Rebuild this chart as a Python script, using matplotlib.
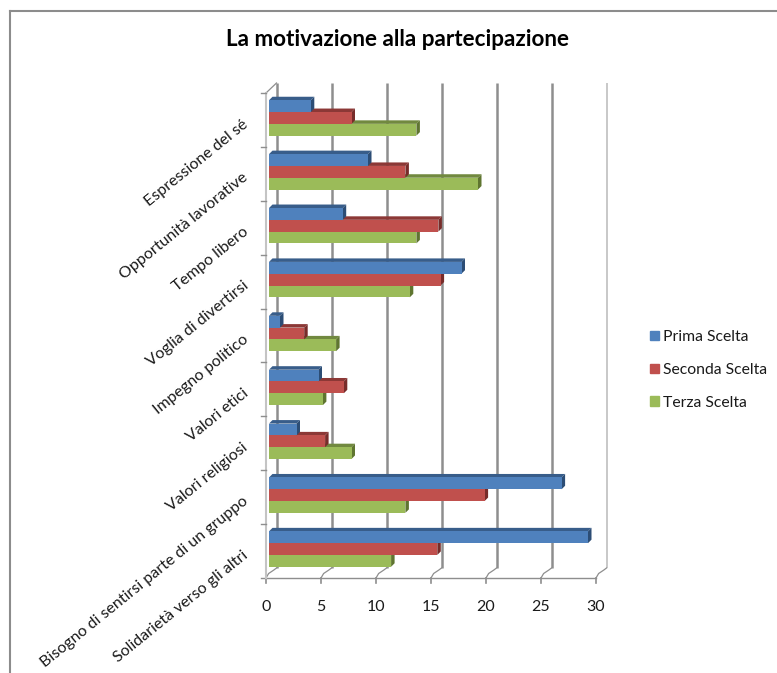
import numpy as np
import matplotlib
matplotlib.use('Agg')
import matplotlib.pyplot as plt
from matplotlib.lines import Line2D
from matplotlib.patches import Polygon, Patch

plt.rcParams['font.family'] = ['Lato', 'DejaVu Sans']

categories = ['Solidarietà verso gli altri', 'Bisogno di sentirsi parte di un gruppo', 'Valori religiosi',
              'Valori etici', 'Impegno politico', 'Voglia di divertirsi', 'Tempo libero',
              'Opportunità lavorative', 'Espressione del sé']
prima = [29.0, 26.6, 2.5, 4.5, 1.0, 17.5, 6.7, 9.0, 3.8]
seconda = [15.3, 19.6, 5.1, 6.8, 3.2, 15.6, 15.4, 12.4, 7.5]
terza = [11.1, 12.4, 7.5, 4.9, 6.1, 12.8, 13.4, 19.0, 13.4]
xticks = [0, 5, 10, 15, 20, 25, 30]

W, H = 777, 673
fig = plt.figure(figsize=(W / 100, H / 100), dpi=100)
# axes: x 0-30 on px 266-596, one band per category on px 578-93
ax = fig.add_axes([266 / W, 1 - 578 / H, 330 / W, 485 / H])
ax.set_xlim(0, 30)
ax.set_ylim(-0.5, 8.5)
ax.axis('off')

px_x = 30 / 330
px_y = 9 / 485
ymin, ymax = -0.5, 8.5
wall_dx, wall_dy = 10.5 * px_x, 10 * px_y
x0 = 3 * px_x          # bars start a bit right of the axis
shift = 2 * px_y       # group centre sits above the band centre
bar_h = 11.8 * px_y
dep_x, dep_y = 3.5 * px_x, 3.5 * px_y

# back wall gridlines and the little bent floor lines
for v in xticks:
    col = '#c4c4c4' if v == 30 else '#8e8e8e'
    lw = 1.3 if v == 30 else 1.8
    ax.plot([v + wall_dx, v + wall_dx], [ymin + wall_dy, ymax + wall_dy], color=col, lw=lw, zorder=1,
            clip_on=False, solid_capstyle='butt')
    ax.plot([v, v + 0.25 * wall_dx, v + 0.75 * wall_dx, v + wall_dx],
            [ymin, ymin + 0.45 * wall_dy, ymin + 0.8 * wall_dy, ymin + wall_dy],
            color='#8e8e8e', lw=0.9, zorder=1, clip_on=False)
    ax.plot([v, v], [ymin, ymin - 5 * px_y], color='#8e8e8e', lw=1.2, clip_on=False)
    ax.text(v, ymin - 29 * px_y, str(v), ha='center', va='center', fontsize=11.5, color='#1a1a1a')

# front floor and left wall
ax.plot([-5 * px_x, 30], [ymin, ymin], color='#8e8e8e', lw=1.0, clip_on=False, zorder=2)
ax.plot([0, 0], [ymin, ymax], color='#c4c4c4', lw=1.5, clip_on=False, zorder=2)
ax.plot([0, wall_dx], [ymax, ymax + wall_dy], color='#8e8e8e', lw=0.9, clip_on=False, zorder=1)
for b in np.arange(9) + 0.5:
    ax.plot([-5 * px_x, 0], [b, b], color='#8e8e8e', lw=1.0, clip_on=False, zorder=2)

series = [(terza, -1, '#9BBB59', '#71893F', '#5F7530'),
          (seconda, 0, '#C0504D', '#8C3836', '#772C2A'),
          (prima, 1, '#4F81BD', '#385D8A', '#2C4D75')]
z = 3
for i in range(len(categories)):
    for vals, pos, face, top, side in series:
        v = vals[i]
        y = i + shift + pos * bar_h
        lo, hi = y - bar_h / 2, y + bar_h / 2
        end = x0 + v
        ax.add_patch(Polygon([(x0, hi), (x0 + dep_x, hi + dep_y), (end + dep_x, hi + dep_y), (end, hi)],
                             facecolor=top, edgecolor='none', zorder=z))
        ax.add_patch(Polygon([(end, lo), (end + dep_x, lo + dep_y), (end + dep_x, hi + dep_y), (end, hi)],
                             facecolor=side, edgecolor='none', zorder=z))
        ax.barh(y, v, left=x0, height=bar_h, color=face, edgecolor='none', zorder=z + 0.5)
        z += 1

for i, name in enumerate(categories):
    ax.annotate(name, xy=(0, i), xytext=(-24, 3), textcoords='offset pixels', ha='right', va='top',
                rotation=39, rotation_mode='anchor', fontsize=11.5, color='#1a1a1a', annotation_clip=False)

fig.text(397.5 / W, 1 - 39 / H, 'La motivazione alla partecipazione', ha='center', va='center',
         fontsize=16.2, fontweight='bold', color='black')

handles = [Patch(color='#4F81BD', label='Prima Scelta'),
           Patch(color='#C0504D', label='Seconda Scelta'),
           Patch(color='#9BBB59', label='Terza Scelta')]
fig.legend(handles=handles, loc='center left', bbox_to_anchor=(636 / W, 1 - 370 / H), frameon=False,
           fontsize=11.3, handlelength=0.57, handleheight=0.57, handletextpad=0.22, labelspacing=1.2,
           labelcolor='#1a1a1a')

# chart border, only top and left are in the crop
fig.add_artist(Line2D([10 / W, 1], [1 - 11 / H, 1 - 11 / H], color='#8c8c8c', lw=1.5))
fig.add_artist(Line2D([10 / W, 10 / W], [0, 1 - 11 / H], color='#8c8c8c', lw=1.5))

fig.savefig('out.png', dpi=100)
